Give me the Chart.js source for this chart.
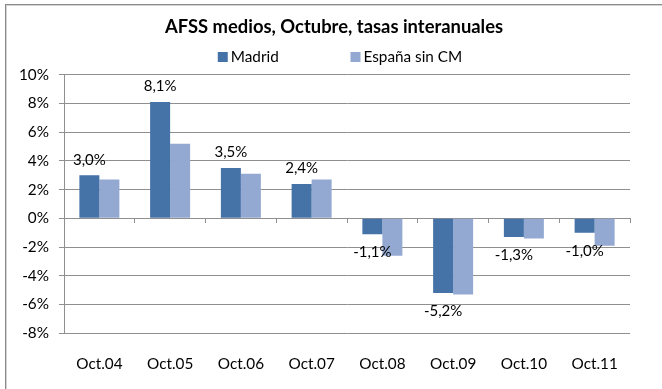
<!DOCTYPE html>
<html lang="es">
<head>
<meta charset="utf-8">
<title>AFSS medios, Octubre, tasas interanuales</title>
<script src="https://cdn.jsdelivr.net/npm/chart.js@4.4.1/dist/chart.umd.min.js"></script>
<style>
  html, body { margin: 0; padding: 0; background: #ffffff; }
  #wrap { position: relative; width: 662px; height: 389px; overflow: hidden; }
  #frame {
    position: absolute; left: 5px; top: 4px; width: 700px; height: 420px;
    border-top: 1px solid #8a8a8a; border-left: 1px solid #8a8a8a;
    box-shadow: inset 1px 1px 0 #d4d4d4;
  }
  #chart { position: absolute; left: 0; top: 0; }
</style>
</head>
<body>
<div id="wrap">
  <div id="frame"></div>
  <canvas id="chart" width="662" height="389"></canvas>
</div>
<script>
// Year-on-year rates of average Social Security affiliates, October of each year (%)
const chartTitle = 'AFSS medios, Octubre, tasas interanuales';
const categories = ['Oct.04', 'Oct.05', 'Oct.06', 'Oct.07', 'Oct.08', 'Oct.09', 'Oct.10', 'Oct.11'];
const seriesNames = ['Madrid', 'España sin CM'];
const madrid = [3.0, 8.1, 3.5, 2.4, -1.1, -5.2, -1.3, -1.0];
const espanaSinCM = [2.7, 5.2, 3.1, 2.7, -2.6, -5.3, -1.4, -1.9];
const yMin = -8;
const yMax = 10;
const yStep = 2;

const FONT = 'Lato, "Open Sans", sans-serif';
const GRID = '#8f8f8f';
const seriesColors = ['#4572A7', '#94A9D2'];

const pct = v => v.toFixed(1).replace('.', ',') + '%';

// Value labels for the first series: above positive bars, below negative ones
const valueLabels = {
  id: 'valueLabels',
  afterDatasetsDraw(chart) {
    const ctx = chart.ctx;
    const meta = chart.getDatasetMeta(0);
    const data = chart.data.datasets[0].data;
    ctx.save();
    ctx.font = '15px ' + FONT;
    ctx.fillStyle = '#000000';
    ctx.textAlign = 'center';
    ctx.textBaseline = 'middle';
    meta.data.forEach((bar, i) => {
      const v = data[i];
      const y = v >= 0 ? bar.y - 15.5 : bar.y + 18;
      ctx.fillText(pct(v), bar.x, y);
    });
    ctx.restore();
  }
};

// Legend row with equal-width slots, drawn under the title
const legendRow = {
  id: 'legendRow',
  afterDraw(chart) {
    const ctx = chart.ctx;
    const opts = chart.options.plugins.legendRow;
    ctx.save();
    ctx.font = opts.fontSize + 'px ' + FONT;
    ctx.textBaseline = 'middle';
    ctx.textAlign = 'left';
    const items = chart.data.datasets.map(ds => ({
      text: ds.label, color: ds.backgroundColor,
      w: opts.box + opts.boxGap + ctx.measureText(ds.label).width
    }));
    const slot = Math.max(...items.map(it => it.w)) + opts.spacing;
    const total = slot * (items.length - 1) + items[items.length - 1].w;
    let x = opts.centerX - total / 2;
    items.forEach(it => {
      ctx.fillStyle = it.color;
      ctx.fillRect(x, opts.y - opts.box / 2, opts.box, opts.box);
      ctx.fillStyle = '#000000';
      ctx.fillText(it.text, x + opts.box + opts.boxGap, opts.y);
      x += slot;
    });
    ctx.restore();
  }
};

Chart.defaults.font.family = FONT;
Chart.defaults.color = '#000000';

function draw() {
  new Chart(document.getElementById('chart'), {
    type: 'bar',
    data: {
      labels: categories,
      datasets: [
        { label: seriesNames[0], data: madrid, backgroundColor: seriesColors[0], borderWidth: 0 },
        { label: seriesNames[1], data: espanaSinCM, backgroundColor: seriesColors[1], borderWidth: 0 }
      ]
    },
    options: {
      responsive: false,
      animation: false,
      devicePixelRatio: 1,
      categoryPercentage: 0.5654,
      barPercentage: 1,
      layout: { padding: { left: 6, right: 0, top: 0, bottom: 0 } },
      plugins: {
        legend: { display: false },
        tooltip: { enabled: false },
        title: {
          display: true,
          text: chartTitle,
          color: '#000000',
          font: { size: 18.4, weight: 'bold', family: FONT, lineHeight: 1.2 },
          padding: { top: 16, bottom: 36.6 }
        },
        legendRow: { centerX: 340, y: 57, box: 10, boxGap: 3, spacing: 21, fontSize: 15.3 }
      },
      scales: {
        x: {
          position: 'bottom',
          grid: { display: false },
          border: { display: false },
          ticks: { font: { size: 15.3 }, padding: 14, maxRotation: 0, autoSkip: false },
          afterFit(scale) { scale.height = 55.7; }
        },
        x2: {
          type: 'category',
          axis: 'x',
          labels: categories,
          position: { y: 0 },
          grid: { display: true, drawOnChartArea: false, drawTicks: true, tickLength: 5, offset: true, color: GRID },
          border: { display: false },
          ticks: { display: false }
        },
        y: {
          min: yMin,
          max: yMax,
          ticks: {
            stepSize: yStep,
            padding: 10,
            font: { size: 15.3 },
            callback: v => v + '%'
          },
          grid: { color: GRID, tickLength: 5, drawTicks: true },
          border: { display: true, color: GRID },
          afterFit(scale) { scale.width = 58; }
        },
        // empty margin on the right of the plot
        yRight: {
          position: 'right',
          min: yMin,
          max: yMax,
          grid: { display: false },
          border: { display: false },
          ticks: { display: false },
          afterFit(scale) { scale.width = 32; }
        }
      }
    },
    plugins: [valueLabels, legendRow]
  });
}

if (document.fonts && document.fonts.load) {
  Promise.all([
    document.fonts.load('15px Lato'),
    document.fonts.load('bold 18px Lato')
  ]).then(draw, draw);
} else {
  draw();
}
</script>
</body>
</html>
